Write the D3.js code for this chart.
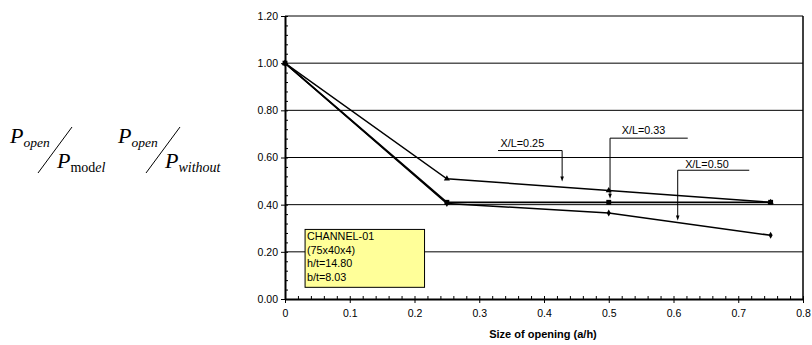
<!DOCTYPE html>
<html>
<head>
<meta charset="utf-8">
<script src="https://cdn.jsdelivr.net/npm/d3@7"></script>
<style>
  body { margin: 0; background: #fff; }
  svg { display: block; font-family: "Liberation Sans", Arial, sans-serif; }
  .formula { font-family: "Liberation Serif", "Times New Roman", serif; }
</style>
</head>
<body>
<svg id="chart" width="812" height="345"></svg>
<script>
// opening sizes (a/h)
const openings = [0, 0.25, 0.5, 0.75];
// P_open / P ratio for each X/L position
const seriesXL025 = [1.0, 0.51, 0.46, 0.41];
const seriesXL033 = [1.0, 0.41, 0.41, 0.41];
const seriesXL050 = [1.0, 0.405, 0.365, 0.27];
const yTicks = [0, 0.2, 0.4, 0.6, 0.8, 1.0, 1.2];
const xTicks = [0, 0.1, 0.2, 0.3, 0.4, 0.5, 0.6, 0.7, 0.8];
const infoLines = ["CHANNEL-01", "(75x40x4)", "h/t=14.80", "b/t=8.03"];

const svg = d3.select('#chart');
const x = d3.scaleLinear().domain([0, 0.8]).range([285, 803]);
const y = d3.scaleLinear().domain([0, 1.2]).range([299, 16]);

// gridlines
svg.append("g").selectAll("line")
  .data(yTicks.filter(d => d > 0))
  .enter().append("line")
  .attr("x1", x(0)).attr("x2", x(0.8))
  .attr("y1", d => y(d)).attr("y2", d => y(d))
  .attr("stroke", "#000").attr("stroke-width", 1);

// right border
svg.append("line")
  .attr("x1", x(0.8)).attr("x2", x(0.8))
  .attr("y1", y(0)).attr("y2", y(1.2))
  .attr("stroke", "#000").attr("stroke-width", 1.5);

// minor ticks (inside)
const yMinor = d3.range(0, 1.2001, 0.04);
const xMinor = d3.range(0, 0.8001, 0.02);
svg.append("g")
  .attr("transform", `translate(${x(0)},0)`)
  .call(d3.axisRight(y).tickValues(yMinor).tickSize(3).tickFormat(""))
  .call(g => g.select(".domain").remove());
svg.append("g")
  .attr("transform", `translate(0,${y(0)})`)
  .call(d3.axisTop(x).tickValues(xMinor).tickSize(3).tickFormat(""))
  .call(g => g.select(".domain").remove());

// main axes
const yAxis = svg.append("g")
  .attr("transform", `translate(${x(0)},0)`)
  .call(d3.axisLeft(y).tickValues(yTicks).tickSize(4).tickSizeOuter(0).tickPadding(3).tickFormat(d3.format(".2f")));
const xAxis = svg.append("g")
  .attr("transform", `translate(0,${y(0)})`)
  .call(d3.axisBottom(x).tickValues(xTicks).tickSize(4).tickSizeOuter(0).tickPadding(7)
    .tickFormat(d => d === 0 ? "0" : d3.format(".1f")(d)));
[yAxis, xAxis].forEach(a => {
  a.selectAll("text").attr("font-size", 10.5).attr("fill", "#000").attr("font-family", "Liberation Sans, Arial, sans-serif");
  a.select(".domain").attr("stroke-width", 2);
});

svg.append("text")
  .attr("x", 543).attr("y", 338)
  .attr("text-anchor", "middle")
  .attr("font-size", 11).attr("font-weight", "bold")
  .text("Size of opening (a/h)");

// series lines
const line = d3.line().x(d => x(d[0])).y(d => y(d[1]));
const allSeries = [
  { values: seriesXL050, marker: d3.symbolDiamond, size: 14, width: 1.5 },
  { values: seriesXL033, marker: d3.symbolSquare, size: 24, width: 1.8 },
  { values: seriesXL025, marker: d3.symbolTriangle, size: 16, width: 1.4 }
];
allSeries.forEach(s => {
  const pts = openings.map((o, i) => [o, s.values[i]]);
  svg.append("path").datum(pts)
    .attr("d", line).attr("fill", "none")
    .attr("stroke", "#000").attr("stroke-width", s.width);
  svg.append("g").selectAll("path")
    .data(pts).enter().append("path")
    .attr("transform", d => `translate(${x(d[0])},${y(d[1])})`)
    .attr("d", d3.symbol().type(s.marker).size(s.size))
    .attr("fill", "#000");
});

// leader-line annotations (in data units)
const notes = [
  { label: "X/L=0.25", x0: 0.329, x1: 0.428, elbow: 0.428, ly: 0.6295, tip: 0.498, tx: 0.333, ty: 0.645 },
  { label: "X/L=0.33", x0: 0.502, x1: 0.622, elbow: 0.502, ly: 0.682, tip: 0.425, tx: 0.520, ty: 0.700 },
  { label: "X/L=0.50", x0: 0.6065, x1: 0.717, elbow: 0.6065, ly: 0.546, tip: 0.333, tx: 0.618, ty: 0.556 }
];
notes.forEach(n => {
  const g = svg.append("g");
  g.append("line")
    .attr("x1", x(n.x0)).attr("x2", x(n.x1))
    .attr("y1", y(n.ly)).attr("y2", y(n.ly))
    .attr("stroke", "#000").attr("stroke-width", 1);
  g.append("line")
    .attr("x1", x(n.elbow)).attr("x2", x(n.elbow))
    .attr("y1", y(n.ly)).attr("y2", y(n.tip) - 3)
    .attr("stroke", "#000").attr("stroke-width", 1);
  const tx = x(n.elbow), ty = y(n.tip);
  g.append("path")
    .attr("d", `M${tx - 1.8},${ty - 5}L${tx + 1.8},${ty - 5}L${tx},${ty}Z`)
    .attr("fill", "#000");
  g.append("text")
    .attr("x", x(n.tx)).attr("y", y(n.ty))
    .attr("font-size", 10.8)
    .text(n.label);
});

// info box
const box = svg.append("g");
box.append("rect")
  .attr("x", x(0.031)).attr("y", y(0.295))
  .attr("width", x(0.2155) - x(0.031)).attr("height", y(0.0495) - y(0.295))
  .attr("fill", "#ffff99").attr("stroke", "#000").attr("stroke-width", 1);
box.selectAll("text")
  .data(infoLines).enter().append("text")
  .attr("x", x(0.034))
  .attr("y", (d, i) => y(0.295) + 11 + i * 13.5)
  .attr("font-size", 10.8)
  .text(d => d);

// ratio formulas on the left
const f = svg.append("g").attr("class", "formula").attr("font-style", "italic");
function ratio(x0, denomParts) {
  const t1 = f.append("text").attr("x", x0).attr("y", 143);
  t1.append("tspan").attr("font-size", 22).text("P");
  t1.append("tspan").attr("font-size", 13.5).attr("dy", 4).text("open");
  f.append("line")
    .attr("x1", x0 + 28).attr("y1", 173).attr("x2", x0 + 62).attr("y2", 127)
    .attr("stroke", "#000").attr("stroke-width", 1);
  const t2 = f.append("text").attr("x", x0 + 47).attr("y", 168);
  t2.append("tspan").attr("font-size", 22).text("P");
  denomParts.forEach((p, i) => {
    t2.append("tspan").attr("font-size", 14)
      .attr("dy", i === 0 ? 4 : 0)
      .attr("font-style", p.roman ? "normal" : "italic")
      .text(p.t);
  });
}
ratio(10, [{ t: "mod", roman: true }, { t: "el" }]);
ratio(118, [{ t: "without" }]);
</script>
</body>
</html>
